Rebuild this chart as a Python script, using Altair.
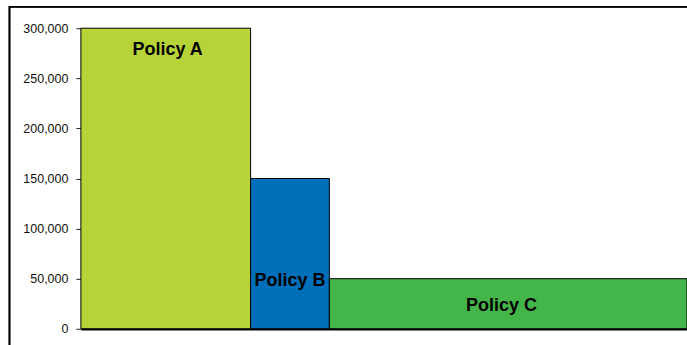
import altair as alt
import pandas as pd

policies = ["Policy A", "Policy B", "Policy C"]
widths = [28, 13, 59]            # share of total (x extent)
values = [300000, 150000, 50000] # bar heights
colors = ["#B6D437", "#006FBA", "#44B649"]
label_x = [14.3, 34.5, 69.4]
label_y = [278000, 48000, 23000]
y_ticks = [0, 50000, 100000, 150000, 200000, 250000, 300000]

x0 = []
acc = 0
for w in widths:
    x0.append(acc)
    acc += w
x1 = [a + w for a, w in zip(x0, widths)]

df = pd.DataFrame({"policy": policies, "x0": x0, "x1": x1, "value": values,
                   "lx": label_x, "ly": label_y})

W, H = 607, 301

xs = alt.Scale(domain=[0, 100], nice=False, zero=True)
ys = alt.Scale(domain=[0, 300000], nice=False)

y_label_expr = ("datum.value >= 1000 ? floor(datum.value / 1000) + ',000' : "
                "'' + datum.value")

x_axis = alt.Axis(labels=False, ticks=False, grid=False, title=None,
                  domainColor="black", domainWidth=2.5)
y_axis = alt.Axis(values=y_ticks, labelExpr=y_label_expr, grid=False, domain=False,
                  title=None, tickColor="#222", tickSize=5, labelPadding=8,
                  labelFont="Liberation Sans", labelFontSize=12.5, labelColor="#111")

bars = alt.Chart(df).mark_rect(stroke="black", strokeWidth=1).encode(
    x=alt.X("x0:Q", scale=xs, axis=x_axis),
    x2="x1:Q",
    y=alt.Y("value:Q", scale=ys, axis=y_axis),
    y2=alt.datum(0),
    color=alt.Color("policy:N", scale=alt.Scale(domain=policies, range=colors), legend=None),
)

labels = alt.Chart(df).mark_text(font="Liberation Sans", fontSize=18, fontWeight="bold",
                                 color="black", align="center", baseline="middle").encode(
    x=alt.X("lx:Q", scale=xs, axis=x_axis),
    y=alt.Y("ly:Q", scale=ys, axis=y_axis),
    text="policy:N",
)

frame_top = alt.Chart(df).mark_rule(color="black", strokeWidth=1.5).encode(
    x=alt.value(-72), x2=alt.value(700), y=alt.value(-21.5))
frame_left = alt.Chart(df).mark_rule(color="black", strokeWidth=1.5).encode(
    x=alt.value(-71.5), y=alt.value(-22), y2=alt.value(400))

chart = alt.layer(bars, labels, frame_top, frame_left).properties(
    width=W, height=H,
    background="white",
    autosize=alt.AutoSizeParams(type="none"),
    padding={"left": 81, "top": 28, "right": 0, "bottom": 16},
).configure_view(
    stroke="transparent", strokeWidth=0,
).configure_axis(
    grid=False,
).configure_axisY(
    domain=False, tickColor="#222", tickSize=5, labelPadding=8,
    labelFont="Liberation Sans", labelFontSize=12.5, labelColor="#111",
)

chart.save("out.html", embed_options={"renderer": "svg", "actions": False})
